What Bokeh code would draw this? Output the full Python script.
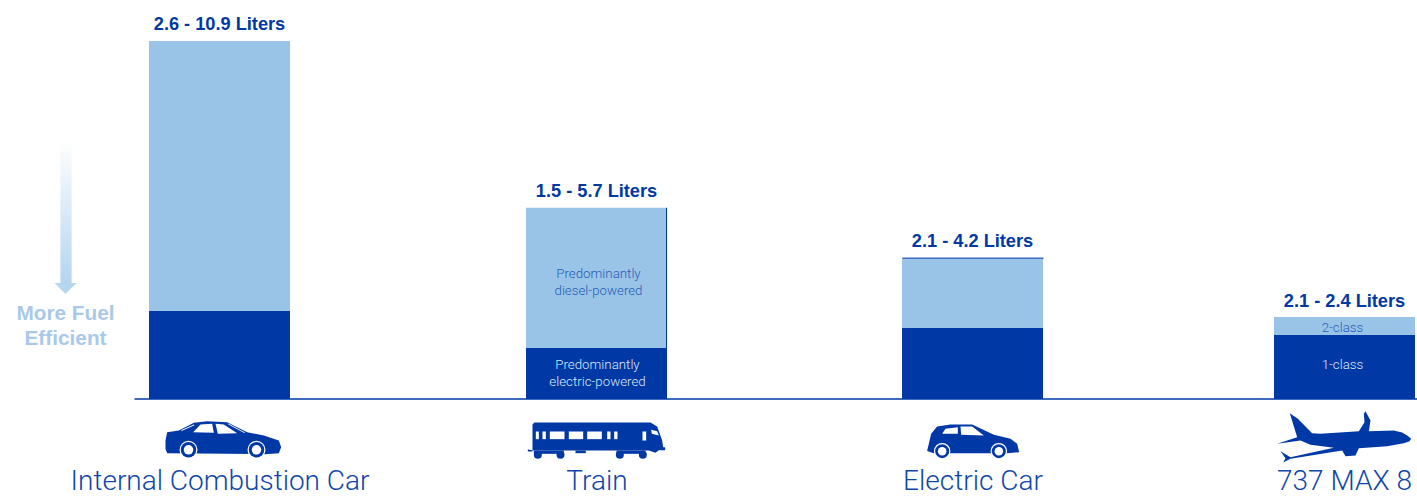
from bokeh.plotting import figure
from bokeh.models import Range1d
from bokeh.core.properties import value
from bokeh.embed import file_html
from bokeh.resources import INLINE

# ---- data (litres) ----
categories = ["Internal Combustion Car", "Train", "Electric Car", "737 MAX 8"]
low_values = [2.68, 1.55, 2.16, 1.95]
high_values = [10.9, 5.82, 4.29, 2.5]
range_labels = ["2.6 - 10.9 Liters", "1.5 - 5.7 Liters", "2.1 - 4.2 Liters", "2.1 - 2.4 Liters"]
bar_centers = [219, 596, 972, 1344]

DARK = "#0039A6"
LIGHT = "#99C4E7"
W, H = 1417, 497
PX_PER_L = 358 / 10.9
BASE = 398.5        # baseline in page px
FONT = "Liberation Sans"
THIN = "Roboto Light"


def X(px):
    return px


def Y(py):
    return (BASE - py) / PX_PER_L


p = figure(width=W, height=H, output_backend="svg", toolbar_location=None,
           x_range=Range1d(0, W), y_range=Range1d(Y(H), Y(0)),
           min_border=0, outline_line_color=None)
p.axis.visible = False
p.grid.visible = False
p.background_fill_color = "white"
p.border_fill_color = "white"

cx = [X(c) for c in bar_centers]
p.vbar(x=cx, width=141, bottom=low_values, top=high_values, fill_color=LIGHT, line_color=None)
p.vbar(x=cx, width=141, bottom=0, top=low_values, fill_color=DARK, line_color=None)
p.line([X(666), X(666)], [low_values[1], high_values[1]], line_color=DARK, line_width=1)
p.line([X(902), X(1043)], [high_values[2], high_values[2]], line_color=DARK, line_width=1)
p.line([X(134), X(1417)], [0, 0], line_color=DARK, line_width=1.5)


def txt(px, py, s, size, color, style="normal", font=FONT):
    p.text([X(px)], [Y(py)], text=[s], text_font=value(font), text_font_size=f"{size}px",
           text_font_style=style, text_color=color, text_align="center", text_baseline="middle")


label_y = [23, 190, 240, 300]
for c, s, ly in zip(bar_centers, range_labels, label_y):
    txt(c, ly, s, 18.2, DARK, "bold")
for c, s in zip(bar_centers, categories):
    txt(c + (0.5 if s != "737 MAX 8" else 0), 480, s, 28, "#0F47A8", font=THIN)

DIM = "#2A5CB8"
PALE = "#DCE8F6"
txt(598, 273, "Predominantly", 13.3, DIM, font=THIN)
txt(598, 289.5, "diesel-powered", 13.3, DIM, font=THIN)
txt(597, 364, "Predominantly", 13.3, PALE, font=THIN)
txt(597, 381, "electric-powered", 13.3, PALE, font=THIN)
txt(1342, 327, "2-class", 13.3, DIM, font=THIN)
txt(1342, 364, "1-class", 13.3, PALE, font=THIN)

# "More fuel efficient" arrow: fading shaft
n = 71
for i in range(n):
    y0 = 140 + i * 2
    t = i / (n - 1)
    r = int(255 + (0xB5 - 255) * t)
    g = int(255 + (0xD6 - 255) * t)
    b = int(255 + (0xF0 - 255) * t)
    p.quad(left=X(60), right=X(71), top=Y(y0), bottom=Y(min(y0 + 3, 283)),
           fill_color=f"#{r:02X}{g:02X}{b:02X}", line_color=None)
p.patch([X(54), X(76), X(65)], [Y(282.5), Y(282.5), Y(293.5)], fill_color="#B5D6F0", line_color=None)
txt(65, 312, "More Fuel", 20.8, "#AAC9EA", "bold")
txt(65, 337, "Efficient", 20.8, "#AAC9EA", "bold")


def icon(points, ox, oy, color=DARK):
    p.patch([X(ox + a / 3) for a, b in points], [Y(oy + b / 3) for a, b in points],
            fill_color=color, line_color=None)


def dots(points, ox, oy, diam, color):
    p.scatter([X(ox + a / 3) for a, b in points], [Y(oy + b / 3) for a, b in points],
              size=diam, marker="circle", fill_color=color, line_color=None)


# sedan
ox, oy = 130, 390
icon([(105, 150), (110, 125), (145, 120), (190, 97), (230, 92), (290, 95), (350, 125), (400, 135),
      (445, 150), (452, 170), (445, 188), (405, 191), (110, 188), (105, 175)], ox, oy)
icon([(188, 125), (210, 102), (245, 100), (250, 127)], ox, oy, "white")
icon([(262, 130), (255, 100), (280, 102), (320, 128)], ox, oy, "white")
icon([(150, 120), (190, 102), (192, 104), (155, 121)], ox, oy, "white")
icon([(295, 100), (345, 127), (340, 127), (290, 100)], ox, oy, "white")
sedan_wheels = [(174, 178), (378, 178)]
dots(sedan_wheels, ox, oy, 18, "white")
dots(sedan_wheels, ox, oy, 15.5, DARK)
dots(sedan_wheels, ox, oy, 9.5, "white")

# train
ox, oy = 510, 400
icon([(66, 72), (72, 66), (420, 66), (440, 78), (455, 120), (458, 140), (464, 140), (464, 149),
      (445, 149), (435, 157), (415, 150), (66, 150)], ox, oy)
icon([(52, 147), (66, 149), (66, 153), (52, 153)], ox, oy)
icon([(70, 150), (160, 150), (160, 160), (70, 160)], ox, oy)
icon([(318, 150), (405, 150), (405, 160), (318, 160)], ox, oy)
icon([(195, 150), (226, 150), (226, 158), (195, 158)], ox, oy)
dots([(82, 163), (150, 163), (328, 163), (397, 163)], ox, oy, 8, DARK)
for a, b in [(76, 85), (96, 106), (118, 162), (175, 218), (230, 274), (290, 300), (311, 321)]:
    icon([(a, 93), (b, 93), (b, 116), (a, 116)], ox, oy, "white")
icon([(396, 93), (407, 93), (407, 120), (396, 120)], ox, oy, "white")
icon([(422, 88), (440, 92), (445, 105), (424, 100)], ox, oy, "white")

# hatchback
ox, oy = 900, 400
icon([(80, 150), (85, 130), (92, 100), (110, 78), (150, 72), (215, 72), (280, 103), (330, 115),
      (350, 130), (356, 155), (320, 158), (100, 158), (82, 152)], ox, oy)
icon([(125, 100), (135, 85), (172, 80), (172, 100)], ox, oy, "white")
icon([(182, 103), (180, 78), (215, 78), (250, 105)], ox, oy, "white")
hatch_wheels = [(125, 152), (295, 152)]
dots(hatch_wheels, ox, oy, 16.5, "white")
dots(hatch_wheels, ox, oy, 14, DARK)
dots(hatch_wheels, ox, oy, 8.5, "white")

# airplane
ox, oy = 1260, 290
icon([(452, 445), (440, 435), (425, 426), (400, 420), (325, 422), (330, 390), (315, 362), (310, 370),
      (312, 395), (295, 422), (180, 430), (155, 428), (112, 385), (88, 368), (110, 440), (50, 460),
      (120, 450), (150, 463), (220, 472), (90, 500), (60, 482), (75, 503), (68, 516), (90, 505),
      (245, 480), (255, 497), (285, 495), (295, 473), (380, 467), (430, 458), (447, 452)], ox, oy)

open("out.html", "w").write(file_html(p, INLINE))
